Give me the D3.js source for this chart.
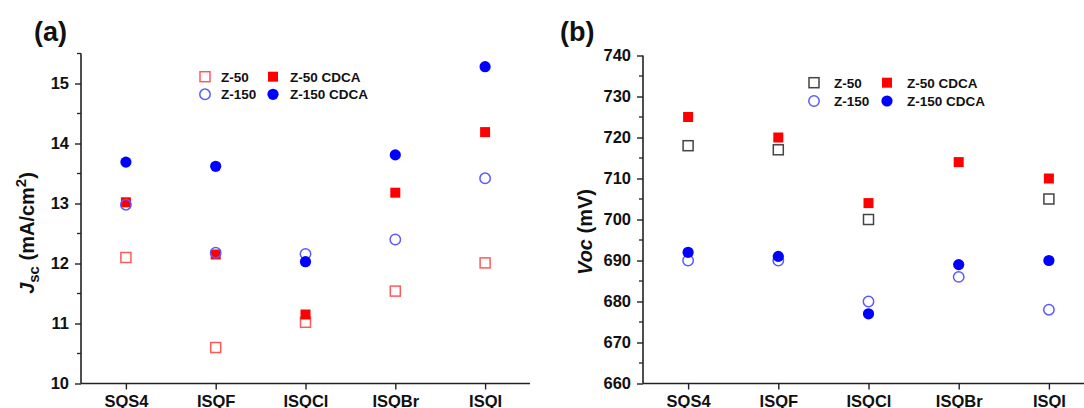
<!DOCTYPE html>
<html>
<head>
<meta charset="utf-8">
<script src="https://cdn.jsdelivr.net/npm/d3@7"></script>
<style>
  html, body { margin: 0; padding: 0; background: #fff; }
  svg { display: block; font-family: Arial, "Liberation Sans", sans-serif; }
  .tick text { font-weight: bold; fill: #111; }
</style>
</head>
<body>
<svg id="chart" width="1084" height="408"></svg>
<script>
// Sensitizer dyes on the x axis
const categories = ["SQS4", "ISQF", "ISQCl", "ISQBr", "ISQI"];
const categoryLabels = ["SQS4", "ISQF", "ISQCl", "ISQBr", "ISQI"];

// Short-circuit current density, mA/cm2
const jscZ50      = [12.10, 10.60, 11.02, 11.54, 12.01];
const jscZ50CDCA  = [13.02, 12.15, 11.15, 13.18, 14.19];
const jscZ150     = [12.98, 12.18, 12.16, 12.40, 13.42];
const jscZ150CDCA = [13.69, 13.62, 12.03, 13.81, 15.28];

// Open-circuit voltage, mV
const vocZ50      = [718, 717, 700, null, 705];
const vocZ50CDCA  = [725, 720, 704, 714, 710];
const vocZ150     = [690, 690, 680, 686, 678];
const vocZ150CDCA = [692, 691, 677, 689, 690];

const jscTicks = [10, 11, 12, 13, 14, 15];
const vocTicks = [660, 670, 680, 690, 700, 710, 720, 730, 740];
const legendNames = ["Z-50", "Z-50 CDCA", "Z-150", "Z-150 CDCA"];

const svg = d3.select("#chart");
svg.append("rect").attr("width", 1084).attr("height", 408).attr("fill", "#fff");

function panel(opts) {
  const g = svg.append("g");
  const x = d3.scalePoint().domain(categories).range(opts.xRange).padding(0.5);
  const y = d3.scaleLinear().domain(opts.yDomain).range(opts.yRange);

  // minor ticks
  const minor = d3.range(opts.yDomain[0], opts.yDomain[1] + 1e-9, opts.minorStep)
    .filter(v => !opts.ticks.some(t => Math.abs(t - v) < 1e-9));
  g.selectAll(".minor").data(minor).join("line")
    .attr("x1", opts.xRange[0] - 4).attr("x2", opts.xRange[0])
    .attr("y1", d => y(d)).attr("y2", d => y(d))
    .attr("stroke", "#222").attr("stroke-width", 1.3);

  const yAxis = g.append("g")
    .attr("transform", `translate(${opts.xRange[0]},0)`)
    .call(d3.axisLeft(y).tickValues(opts.ticks).tickSize(6).tickPadding(6).tickFormat(d3.format("d")));
  yAxis.select(".domain").attr("stroke", "#222").attr("stroke-width", 1.6)
    .attr("d", `M0,${opts.yRange[1]}V${opts.yRange[0]}`);
  yAxis.selectAll(".tick line").attr("stroke", "#222").attr("stroke-width", 1.4);
  yAxis.selectAll(".tick text").attr("font-size", 16.5);

  const xAxis = g.append("g")
    .attr("transform", `translate(0,${opts.yRange[0]})`)
    .call(d3.axisBottom(x).tickSize(6).tickPadding(6)
      .tickFormat((d, i) => categoryLabels[i]));
  xAxis.select(".domain").attr("stroke", "#222").attr("stroke-width", 1.6)
    .attr("d", `M${opts.xRange[0]},0H${opts.xRange[1]}`);
  xAxis.selectAll(".tick line").attr("stroke", "#222").attr("stroke-width", 1.4);
  xAxis.selectAll(".tick text").attr("font-size", 16.5).attr("dy", "0.71em");

  // series, drawn in legend order so the later ones sit on top
  opts.series.forEach(s => {
    const pts = s.values.map((v, i) => ({ c: categories[i], v })).filter(p => p.v != null);
    drawMarks(g, pts.map(p => [x(p.c), y(p.v)]), s.shape, s.fill, s.stroke);
  });

  // legend
  const lg = g.append("g");
  opts.series.forEach((s, i) => {
    const col = i % 2 === 0 ? 0 : 1;
    const row = i < 2 ? 0 : 1;
    const mx = opts.legend.mx[col], ty = opts.legend.rows[row];
    drawMarks(lg, [[mx, ty]], s.shape, s.fill, s.stroke);
    lg.append("text").attr("x", opts.legend.tx[col]).attr("y", ty)
      .attr("dy", "0.36em").attr("font-size", 13.5).attr("font-weight", "bold")
      .attr("fill", "#111").text(legendNames[i]);
  });

  // panel letter
  g.append("text").attr("x", opts.letter[0]).attr("y", opts.letter[1])
    .attr("font-size", 27).attr("font-weight", "bold").attr("fill", "#111")
    .text(opts.letterText);
  return g;
}

function drawMarks(g, pts, shape, fill, stroke) {
  if (shape === "square") {
    g.selectAll(null).data(pts).join("rect")
      .attr("x", d => d[0] - 5).attr("y", d => d[1] - 5)
      .attr("width", 10).attr("height", 10)
      .attr("fill", fill).attr("stroke", stroke)
      .attr("stroke-width", fill === "none" ? 1.5 : 0);
  } else {
    g.selectAll(null).data(pts).join("circle")
      .attr("cx", d => d[0]).attr("cy", d => d[1])
      .attr("r", fill === "none" ? 5.2 : 5.6)
      .attr("fill", fill).attr("stroke", stroke)
      .attr("stroke-width", fill === "none" ? 1.5 : 0);
  }
}

panel({
  xRange: [81, 530], yDomain: [10, 15.5], yRange: [383.5, 53.5],
  ticks: jscTicks, minorStep: 0.5,
  series: [
    { values: jscZ50, shape: "square", fill: "none", stroke: "#ff5a5a" },
    { values: jscZ50CDCA, shape: "square", fill: "#ff0000", stroke: "none" },
    { values: jscZ150, shape: "circle", fill: "none", stroke: "#5a5aff" },
    { values: jscZ150CDCA, shape: "circle", fill: "#0000ff", stroke: "none" }
  ],
  legend: { mx: [205, 273], tx: [221, 290], rows: [76.7, 94.3] },
  letter: [34, 41], letterText: "(a)"
});

panel({
  xRange: [643, 1094], yDomain: [660, 740], yRange: [383.5, 55.5],
  ticks: vocTicks, minorStep: 5,
  series: [
    { values: vocZ50, shape: "square", fill: "none", stroke: "#444" },
    { values: vocZ50CDCA, shape: "square", fill: "#ff0000", stroke: "none" },
    { values: vocZ150, shape: "circle", fill: "none", stroke: "#5a5aff" },
    { values: vocZ150CDCA, shape: "circle", fill: "#0000ff", stroke: "none" }
  ],
  legend: { mx: [814, 887], tx: [834, 907], rows: [82.7, 101] },
  letter: [560, 41], letterText: "(b)"
});

// axis titles
const tA = svg.append("text")
  .attr("transform", "translate(34,233) rotate(-90)")
  .attr("text-anchor", "middle").attr("font-size", 20).attr("font-weight", "bold").attr("fill", "#111");
tA.append("tspan").attr("font-style", "italic").text("J");
tA.append("tspan").attr("font-size", 15).attr("dy", 5).text("sc");
tA.append("tspan").attr("dy", -5).text(" (mA/cm");
tA.append("tspan").attr("font-size", 15).attr("dy", -8).text("2");
tA.append("tspan").attr("dy", 8).text(")");

const tB = svg.append("text")
  .attr("transform", "translate(592,232) rotate(-90)")
  .attr("text-anchor", "middle").attr("font-size", 20).attr("font-weight", "bold").attr("fill", "#111");
tB.append("tspan").attr("font-style", "italic").text("Voc");
tB.append("tspan").text(" (mV)");
</script>
</body>
</html>
